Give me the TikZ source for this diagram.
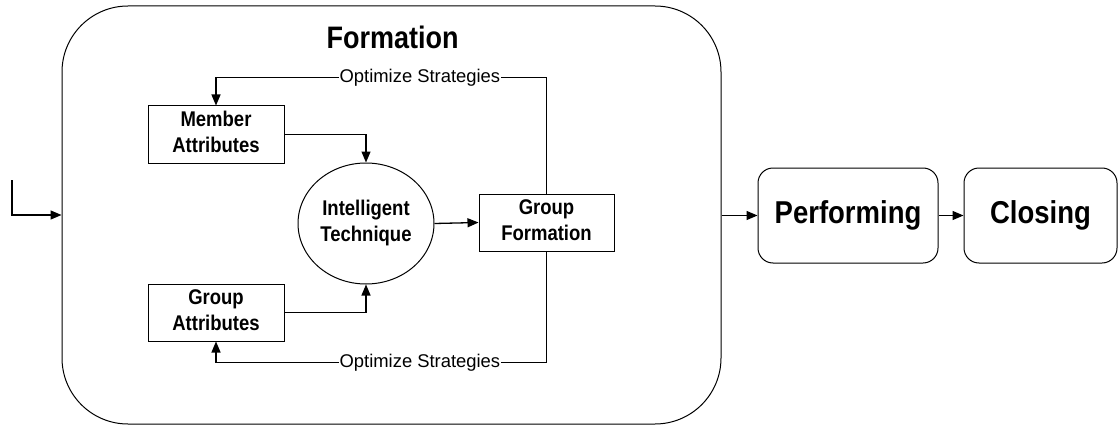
\documentclass[tikz,border=0pt]{standalone}
\usepackage{fontspec}
\setmainfont{Liberation Sans}
\usepackage{graphicx}
\usetikzlibrary{shapes.geometric,arrows.meta}
\newcommand{\vtxt}[1]{\scalebox{1}[1.15]{\begin{tabular}{@{}c@{}}#1\end{tabular}}}
\begin{document}
\begin{tikzpicture}[x=1pt,y=-1pt,
  box/.style={draw, line width=1pt, inner sep=0pt, font=\fontsize{18.5}{22}\selectfont\bfseries},
  bigtxt/.style={font=\fontsize{27}{30}\selectfont\bfseries, inner sep=0pt},
  phase/.style={draw, line width=1pt, rounded corners=15pt, inner sep=0pt, font=\fontsize{27.5}{30}\selectfont\bfseries},
  arr/.style={line width=1.3pt, -{Triangle[length=11pt,width=9pt]}},
  lab/.style={fill=white, inner sep=0.5pt, font=\fontsize{18.4}{20}\selectfont}
]
\useasboundingbox (0,0) rectangle (1118,425);
% outer formation box
\node[draw, line width=1pt, rounded corners=66pt, minimum width=659pt, minimum height=418pt, inner sep=0pt] (form) at (391.5,215) {};
\node[bigtxt] (title) at (392.5,37.5) {\scalebox{1}[1.15]{Formation}};
% inner nodes
\node[box, minimum width=136pt, minimum height=57pt] (ma) at (216,134.5) {\vtxt{Member\\Attributes}};
\node[box, minimum width=136pt, minimum height=57pt] (ga) at (216,312.5) {\vtxt{Group\\Attributes}};
\node[box, ellipse, minimum width=136pt, minimum height=121pt] (it) at (366,223.5) {\vtxt{Intelligent\\Technique}};
\node[box, minimum width=135pt, minimum height=57pt] (gf) at (546.5,222.5) {\vtxt{Group\\Formation}};
% phases
\node[phase, minimum width=180pt, minimum height=95pt] (perf) at (848,215.5) {\scalebox{1}[1.15]{Performing}};
\node[phase, minimum width=153pt, minimum height=95pt] (clos) at (1040.5,215.5) {\scalebox{1}[1.15]{Closing}};
% coordinates
\coordinate (tr) at (546.5,77.5);
\coordinate (tl) at (216,77.5);
\coordinate (br) at (546.5,362.5);
\coordinate (bl) at (216,362.5);
\coordinate (in1) at (12,180);
\coordinate (in2) at (12,215);
% connectors
\draw[arr] (ma.east) -| (it.north);
\draw[arr] (ga.east) -| (it.south);
\draw[arr] (it.east) -- (gf.west);
\draw[arr] (gf.north) -- (tr) -- node[lab, pos=0.383] (opt1) {Optimize Strategies} (tl) -- (ma.north);
\draw[arr] (gf.south) -- (br) -- node[lab, pos=0.383] (opt2) {Optimize Strategies} (bl) -- (ga.south);
\draw[arr] (in1) -- (in2) -- (form.west |- in2);
\draw[arr] (form.east |- perf.west) -- (perf.west);
\draw[arr] (perf.east) -- (clos.west);
\end{tikzpicture}
\end{document}
